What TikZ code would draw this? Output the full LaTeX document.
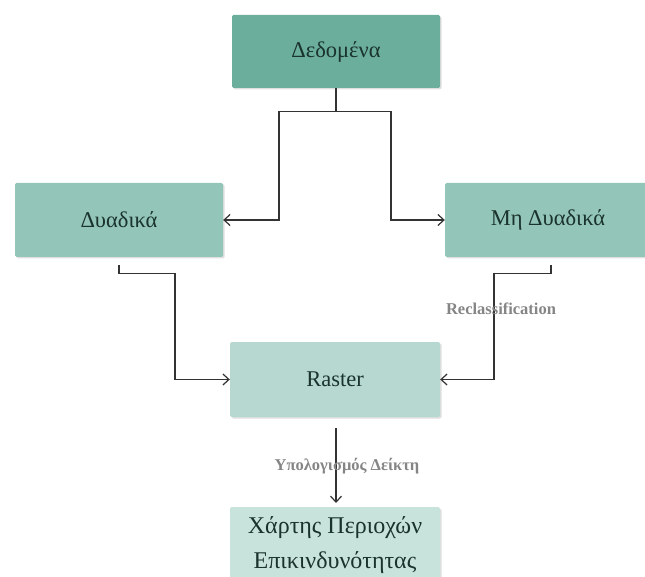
\documentclass[tikz,border=0pt]{standalone}
\usepackage{fontspec}
\setmainfont{Liberation Serif}
\usetikzlibrary{arrows.meta,shadows}

\definecolor{tealdark}{HTML}{6CAE9C}
\definecolor{tealmid}{HTML}{93C5B8}
\definecolor{teallight}{HTML}{B6D8D0}
\definecolor{tealpale}{HTML}{C8E2DC}
\definecolor{boxtext}{HTML}{1A332C}
\definecolor{lblgray}{HTML}{858585}

\tikzset{
    box/.style={rectangle, rounded corners=1.5pt, text=boxtext,
        font=\fontsize{22.5}{27}\selectfont, inner sep=0pt,
        drop shadow={opacity=0.25, shadow xshift=1.5pt, shadow yshift=-1.5pt}},
    conn/.style={draw=black!80, line width=1.2pt, -{Straight Barb[length=6pt,width=11pt]}},
    lbl/.style={text=lblgray, font=\bfseries\fontsize{16.5}{19}\selectfont}
}

\begin{document}
\begin{tikzpicture}[x=1pt, y=-1pt]
    \useasboundingbox (0,0) rectangle (645,577);

    \node[box, fill=tealdark, minimum width=208pt, minimum height=73pt]
        (data) at (336,51.5) {Δεδομένα};
    \node[box, fill=tealmid, minimum width=208pt, minimum height=74pt]
        (bin) at (119,220) {Δυαδικά};
    \node[box, fill=tealmid, minimum width=206pt, minimum height=74pt]
        (nonbin) at (548,220) {Μη Δυαδικά};
    \node[box, fill=teallight, minimum width=210pt, minimum height=75pt]
        (raster) at (335,379.5) {Raster};
    \node[box, fill=tealpale, minimum width=210pt, anchor=north, inner ysep=9pt,
        font=\fontsize{24}{35}\selectfont, align=center]
        (map) at (335,507) {Χάρτης Περιοχών\\Επικινδυνότητας};

    \coordinate (jl) at (279,220);
    \coordinate (jr) at (391,220);

    \draw[conn]
        (data.south) -- ++(0,23) -| (jl) -- (bin.east);
    \draw[conn]
        (data.south) -- ++(0,23) -| (jr) -- (nonbin.west);
    \draw[conn]
        ([yshift=-8pt]bin.south) -- ++(0,8) -- ++(56,0) |- (raster.west);
    \draw[conn]
        ([xshift=3pt,yshift=-8pt]nonbin.south) -- ++(0,8) -- ++(-57,0) |- (raster.east);
    \draw[conn]
        ([xshift=1pt,yshift=-11pt]raster.south) -- ([xshift=1pt,yshift=4pt]map.north);

    \node[lbl] (reclass) at (501,309) {Reclassification};
    \node[lbl] (index) at (347,466) {Υπολογισμός Δείκτη};
\end{tikzpicture}
\end{document}
